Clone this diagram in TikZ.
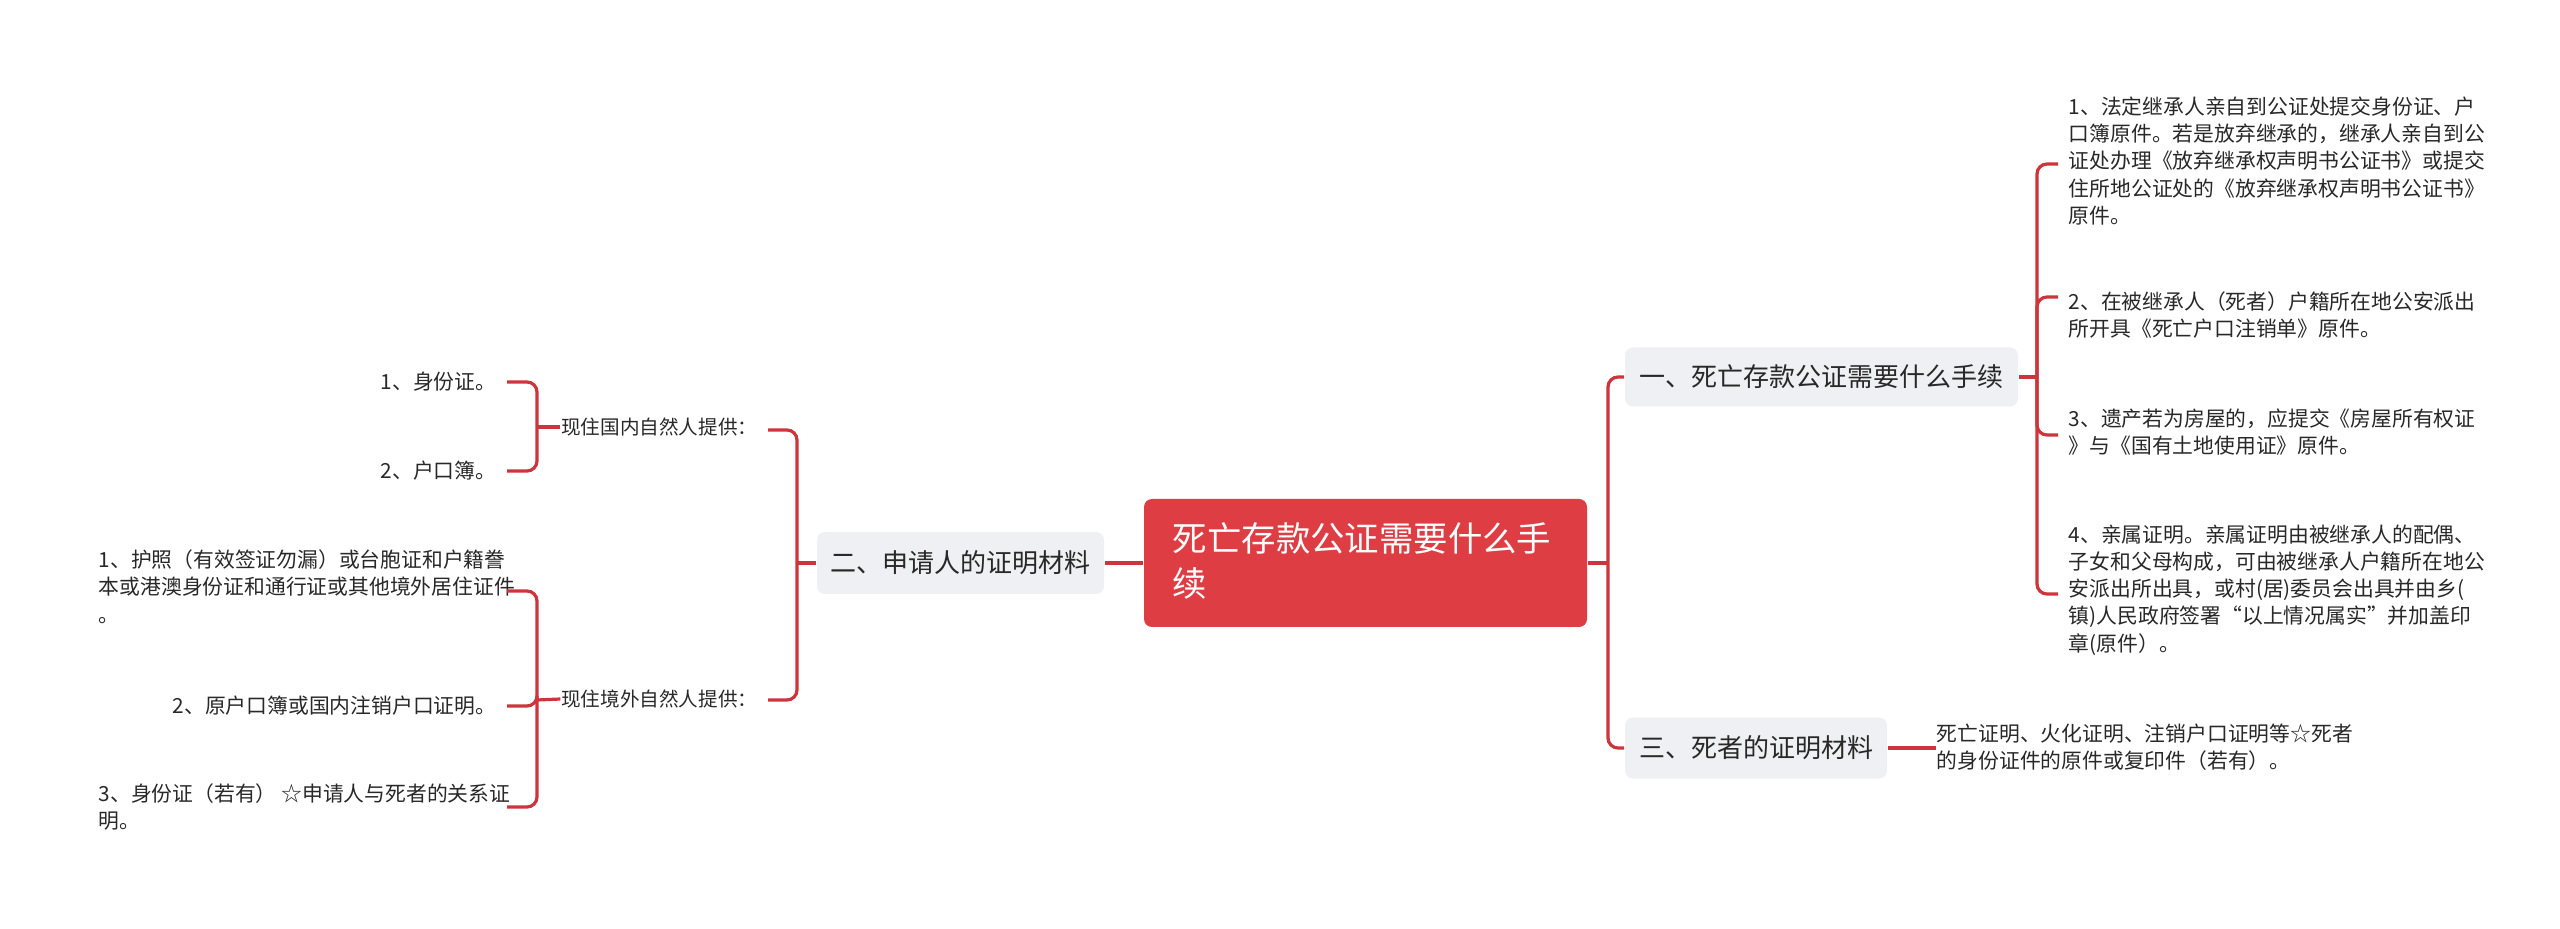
\documentclass[tikz,border=0pt]{standalone}
\usepackage{fontspec}
\setmainfont{Noto Sans CJK SC}
\begin{document}
\begin{tikzpicture}[x=0.25pt,y=-0.25pt,
  conn/.style={draw=red!70!black!90, color={rgb,255:red,205;green,52;blue,60}, line width=0.8pt, rounded corners=2.5pt},
  leaf/.style={inner sep=0pt, align=left, font=\fontsize{5.2}{6.8}\selectfont, text={rgb,255:red,40;green,40;blue,40}},
  leafr/.style={inner sep=0pt, align=right, font=\fontsize{5.2}{6.8}\selectfont, text={rgb,255:red,40;green,40;blue,40}},
  branch/.style={fill={rgb,255:red,238;green,240;blue,243}, rounded corners=2pt, inner sep=0pt, font=\fontsize{6.5}{8}\selectfont, text={rgb,255:red,40;green,40;blue,40}},
  sub/.style={inner sep=0pt, font=\fontsize{4.9}{6}\selectfont, text={rgb,255:red,40;green,40;blue,40}}]
\useasboundingbox[fill=white] (0,0) rectangle (2560,929);
\definecolor{lr}{RGB}{205,52,60}
\tikzset{conn/.style={draw=lr, line width=0.8pt, rounded corners=2.5pt}}
% root
\node[fill={rgb,255:red,222;green,61;blue,67}, rounded corners=2pt, minimum width=443*0.25pt, minimum height=128*0.25pt, inner sep=0pt] (root) at (1365.5,563) {};
\node[anchor=north west, inner sep=0pt, align=left, text=white, font=\fontsize{8.6}{11.2}\selectfont] (roott) at (1172,522) {死亡存款公证需要什么手\\续};
% branches
\node[branch, minimum width=393*0.25pt, minimum height=59*0.25pt] (b1) at (1821.5,377) {一、死亡存款公证需要什么手续};
\node[branch, minimum width=262*0.25pt, minimum height=61*0.25pt] (b3) at (1756,748) {三、死者的证明材料};
\node[branch, minimum width=287*0.25pt, minimum height=62*0.25pt] (b2) at (960.5,563) {二、申请人的证明材料};
% right leaves
\node[leaf, anchor=north west] (r1) at (2068,96) {1、法定继承人亲自到公证处提交身份证、户\\口簿原件。若是放弃继承的，继承人亲自到公\\证处办理《放弃继承权声明书公证书》或提交\\住所地公证处的《放弃继承权声明书公证书》\\原件。};
\node[leaf, anchor=north west] (r2) at (2068,291) {2、在被继承人（死者）户籍所在地公安派出\\所开具《死亡户口注销单》原件。};
\node[leaf, anchor=north west] (r3) at (2068,408) {3、遗产若为房屋的，应提交《房屋所有权证\\》与《国有土地使用证》原件。};
\node[leaf, anchor=north west] (r4) at (2068,524) {4、亲属证明。亲属证明由被继承人的配偶、\\子女和父母构成，可由被继承人户籍所在地公\\安派出所出具，或村(居)委员会出具并由乡(\\镇)人民政府签署“以上情况属实”并加盖印\\章(原件）。};
\node[leaf, anchor=north west] (r5) at (1936,723) {死亡证明、火化证明、注销户口证明等☆死者\\的身份证件的原件或复印件（若有）。};
% left subs
\node[sub, anchor=east] (s1) at (758,427) {现住国内自然人提供：};
\node[sub, anchor=east] (s2) at (758,699) {现住境外自然人提供：};
% left leaves
\node[leafr, anchor=east] (l1) at (497,382) {1、身份证。};
\node[leafr, anchor=east] (l2) at (497,471) {2、户口簿。};
\node[leaf, anchor=north west] (l3) at (98,549) {1、护照（有效签证勿漏）或台胞证和户籍誊\\本或港澳身份证和通行证或其他境外居住证件\\。};
\node[leafr, anchor=east] (l4) at (497,706) {2、原户口簿或国内注销户口证明。};
\node[leaf, anchor=north west] (l5) at (98,783) {3、身份证（若有） ☆申请人与死者的关系证\\明。};
% coordinates for ticks
\coordinate (t1) at (2058,164);
\coordinate (t2) at (2058,297);
\coordinate (t3) at (2058,435);
\coordinate (t4) at (2058,594);
\coordinate (u1) at (507,382);
\coordinate (u2) at (507,471);
\coordinate (u3) at (507,591);
\coordinate (u4) at (507,706);
\coordinate (u5) at (507,807);
\coordinate (v1) at (768,430);
\coordinate (v2) at (768,700);
% connectors right
\draw[conn] (root.east) -- (1608,563);
\draw[conn] (1608,563) |- (b1.west);
\draw[conn] (1608,563) |- (b3.west);
\draw[conn] (b1.east) -- (2037,377);
\foreach \t in {t1,t2,t3,t4} \draw[conn] (2037,377) |- (\t);
\draw[conn] (b3.east) -- (r5.west |- b3.east);
% left
\draw[conn] (b2.east) -- (root.west);
\draw[conn] (b2.west) -- (797,563);
\foreach \t in {v1,v2} \draw[conn] (797,563) |- (\t);
\draw[conn] (s1.west) -- (537,427);
\foreach \t in {u1,u2} \draw[conn] (537,427) |- (\t);
\draw[conn] (s2.west) -- (537,700);
\foreach \t in {u3,u4,u5} \draw[conn] (537,700) |- (\t);
\end{tikzpicture}
\end{document}
